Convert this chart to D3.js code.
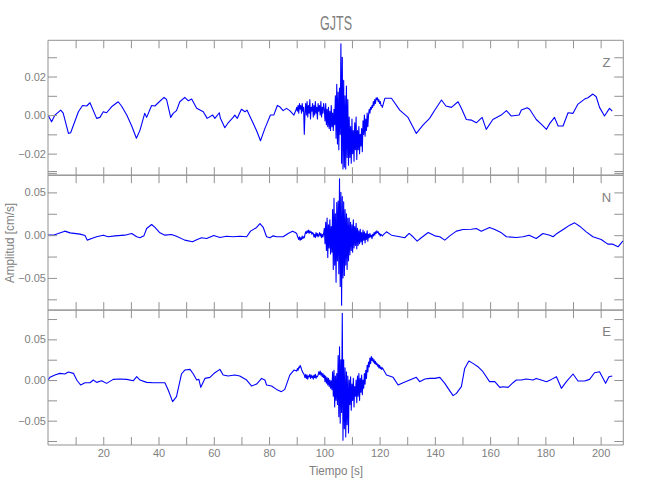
<!DOCTYPE html>
<html>
<head>
<meta charset="utf-8">
<script src="https://cdn.jsdelivr.net/npm/d3@7"></script>
<style>
    body { margin: 0; background: #fff; }
    svg text { font-family: "Liberation Sans", Arial, sans-serif; fill: #808080; }
    .axis path, .axis line { stroke: #929292; }
</style>
</head>
<body>
<svg id="chart" width="650" height="500"></svg>
<script>
// station + components
const station = "GJTS";
const components = ["Z", "N", "E"];

// x axis (s)
const timeDomain = [0, 208.2];
const timeTicks = [10, 20, 30, 40, 50, 60, 70, 80, 90, 100, 110, 120, 130, 140, 150, 160, 170, 180, 190, 200];
const timeLabels = [20, 40, 60, 80, 100, 120, 140, 160, 180, 200];

// y axes (cm/s)
const zDomain = [-0.0312, 0.0388];
const nDomain = [-0.0876, 0.0701];
const eDomain = [-0.0799, 0.0860];
const zTicks = [-0.03, -0.02, -0.01, 0, 0.01, 0.02, 0.03];
const zLabels = [-0.02, 0, 0.02];
const neTicks = [-0.075, -0.05, -0.025, 0, 0.025, 0.05, 0.075];
const neLabels = [-0.05, 0, 0.05];

// traces, amplitude in 1e-3 cm/s
// quiet parts as [t, v]; strong motion part sampled every 0.25 s from 90 s
const burstStart = 90;
const burstStep = 0.25;

const zBefore = [[0,0],[1.3,-3.5],[2.5,0],[4.6,2.6],[5.5,1],[7.4,-9.5],[8.2,-9.2],[11,1.7],[12.5,5],[14,4.7],[15.2,6.4],[17.6,-1.7],[18.8,-1.2],[20,1.7],[21.2,1.2],[23,4.3],[25.4,6.9],[26.6,4.7],[28.5,0],[30.3,-5.7],[32,-12],[33.3,-7.8],[35,0.9],[35.7,-1.2],[37.5,5],[38.7,4.7],[39.9,6.4],[42,9.2],[42.9,8.1],[44.4,-1.2],[45.3,0.9],[46.5,2.3],[47.7,6.9],[49.5,9.2],[50.8,7.4],[52,8.3],[53.8,3.5],[56.2,1.7],[57.6,-1.7],[59.6,0],[60.4,-1.7],[62,1.2],[62.4,-1.7],[64,-6.6],[65.2,-4],[67,-1.2],[67.6,0],[68.5,-1.7],[70,3],[71.3,1.7],[72,2.6],[73.7,-2.6],[75.5,-8.1],[76.9,-13.3],[78.5,-6.9],[79,-5.2],[80.5,0],[81.7,0],[83,5],[83.9,4.3],[85.1,2.3],[86.3,3.5],[87.5,2.3],[89,0],[89.75,2.6]];
const zBurst = [4,2,5,1,6,3,5,1,6,2,4,
    -10,
    1,6,0,7,-1,5,1,8,-2,4,2,6,-1,5,0,7,1,4,-2,6,2,5,0,7,-1,4,1,6,
    3,-3,6,-5,3,-6,4,-7,2,-8,5,-6,1,-8,3,-5,
    10,-12,16,-15,12,-18,14,-10,
    37,-25,30,-28,
    18,-27,10,-28,15,-22,8,-26,
    -1,-22,-6,-25,-2,-20,-8,-24,-4,-18,-1,-23,
    -8,-18,-6,-20,-10,-16,-7,-19,
    -3,-10,0,-11,-2,-8,1,-6,
    0,3,1,4,3,5,4,7,5,8,6,9,
    8,9,7,8,6,7,5,5,4];
const zAfter = [[121.9,8.7],[124.3,8.7],[127.3,2.6],[130.3,-1.2],[133.3,-9.5],[135.7,-5.2],[138.1,-1.7],[140,2.6],[142.4,7.8],[144,4.7],[146,4],[148.4,6.9],[149.6,3.5],[151.4,-2.3],[153.2,-2.6],[155,-4],[157.1,-1.2],[158.6,-7.4],[161,-2.3],[164,0],[165.9,2.3],[167.7,-0.5],[170.5,0],[171.3,2.6],[173.4,3.8],[174.3,3],[176.7,-2.3],[178.5,-4.7],[180.4,-7.4],[181.6,-4.3],[183.3,-1.2],[184.6,-5.7],[186.4,-5.7],[188.2,1.2],[190,0.9],[191.8,5.7],[194.2,8.3],[195.4,9],[197.2,10.9],[198.4,9.5],[199.6,4],[201.4,-0.5],[203.2,3.5],[204.2,2.1]];

const nBefore = [[0,0],[1.9,0],[3.7,2],[6.1,4.7],[8,2.7],[11.6,1.2],[13.4,-0.4],[14.2,-5.8],[15.8,-3.9],[17.6,-1.9],[20,0],[21.8,-1.9],[24.2,-0.8],[27.8,0],[30.3,2],[32.1,-1.9],[33.3,-3],[34.7,-0.8],[35.7,7.8],[37.5,12.5],[38.7,9],[40.5,2.7],[42.3,0],[44.7,0.8],[46.5,-1.2],[49.5,-5.8],[52.3,-7.8],[54,-5],[55.6,-3],[57.4,-3.9],[60,-0.4],[62.2,-2.7],[64.6,-1.2],[67,-1.9],[69.4,-1.2],[71.9,-1.9],[73.3,4.7],[75.5,9],[76.7,13.6],[77.9,9],[79.1,-1.9],[80.3,-3],[81.5,-0.8],[82.7,-1.9],[85.1,-1.9],[86.9,2],[88.5,4.7],[89.5,3.1]];
const nBurst = [2,-1,-3,-5,-2,-6,-3,-5,-1,-4,-2,-3,
    1,4,2,5,3,6,2,5,3,4,1,3,
    2,-2,1,-3,3,-1,2,-2,0,3,-1,2,-3,1,-2,2,
    8,-10,15,-18,20,-26,12,-15,18,-22,10,-20,
    30,-40,43,-35,25,-55,38,-30,40,-45,
    66,-60,50,-82,45,-50,
    39,-47,30,-35,25,-40,20,-30,
    20,-23,15,-18,12,-20,18,-15,10,-12,14,-16,
    8,-12,5,-10,7,-8,3,-11,6,-6,4,-9,2,-5,5,-7,
    1,-3,2,-2,0,-4,1,-1,3,0,4,2,5,3,4,1,2,-1,1,0,-1];
const nAfter = [[121.5,1],[122.5,3.9],[124.3,0],[127.3,-1.9],[129.1,-3],[130.7,2],[132.1,-1.9],[133.6,-7],[135.1,-3],[137.6,3.1],[140,-0.8],[141.8,-1.9],[143.6,-5.8],[145.4,-0.8],[147.8,4.7],[150.2,6.6],[153.2,7],[155,7.8],[156.8,4.7],[159.8,9],[161.7,6.6],[164.1,2.7],[165.9,-1.9],[169.5,-2.7],[171.9,-1.9],[174.1,0],[176.7,-3.9],[179.1,2],[181.6,0],[182.8,-1.9],[184.2,2],[187,7.8],[188.8,11.7],[190.6,14.4],[192.4,10.5],[194.8,3.9],[197.2,-1.9],[200.2,-5],[202.6,-10.5],[204.4,-10.5],[206.3,-13.6],[208.1,-6.6]];

const eBefore = [[0,0],[0.7,3.3],[2.5,6.1],[4.3,8.2],[6.1,7.4],[7.4,9.8],[9.2,8.2],[10.4,0],[11.8,-6.1],[13.4,-3.3],[15.2,-3.3],[16.4,0],[17.6,-2.9],[19.4,-0.8],[21.2,-4.1],[23.6,0.8],[26,1.2],[28.5,0.8],[30.9,-0.8],[32.1,4.1],[33.3,0],[35.7,-2.9],[38.1,-3.3],[39.9,-3.3],[42.3,-3.3],[43.5,-12.3],[45.1,-26.6],[46.5,-20.5],[48.3,7.4],[49.5,12.3],[51.4,13.1],[52.6,7.4],[53.8,0],[54.6,0.8],[55.3,-9],[56.8,2],[58.6,3.3],[60.4,9],[62.2,13.1],[63.4,6.1],[65.2,4.9],[67.6,6.1],[69.4,4.9],[71.9,0],[73.7,-7.4],[75.5,-4.9],[77.3,2],[78.5,0],[79.1,-6.1],[80.9,-7.4],[82.7,-11.5],[84.5,-14.3],[85.7,-11.5],[87.5,6.1],[89,12.3]];
const eBurst = [11,14,12,16,15,18,
    16,13,11,9,8,6,
    3,7,2,6,1,5,4,7,2,6,3,5,1,6,3,7,2,5,4,6,
    10,7,11,6,9,4,8,3,
    6,-2,5,-4,3,-6,2,-8,0,-10,-1,-12,
    10,-20,12,-33,5,-25,8,-30,
    30,-45,41,-53,25,-40,
    82,-74,
    25,-60,15,-70,10,-55,5,-65,
    0,-30,4,-37,-5,-25,2,-33,-8,-20,0,-28,
    5,-20,8,-25,2,-15,6,-18,
    0,-10,8,-5,12,2,18,10,22,16,27,20,
    29,24,27,22,25,20,23,19,
    21,17,19,15,18,14,16,13,15];
const eAfter = [[122.5,6.1],[124.9,3.3],[126.7,-6.1],[128.5,-3.3],[130.9,0],[133.3,3.3],[134.5,-2],[136.4,1.2],[138.2,2],[140,2],[141.8,3.3],[143.6,-4.1],[144.8,-10.2],[146.6,-19.2],[147.8,-16.4],[149.6,-8.2],[150.8,14.3],[152.3,23.3],[153.8,20.5],[155.6,16.4],[157.4,10.2],[159.8,-2],[161.7,-2],[163.5,-9],[164.7,-8.2],[166.5,-9],[168.3,-3.3],[169.5,0],[171.3,0],[173.1,1.2],[175.5,0],[176.7,2],[178.5,0],[180.4,-2],[182.2,0.8],[184,4.1],[185.8,-10.2],[187.6,-2],[190,7.4],[191.8,-1.2],[194.2,-1.2],[196,0.8],[197.8,9],[199.6,10.2],[201.8,-4.1],[203,4.1],[204.2,4.9]];

function buildTrace(before, burst, after) {
    let pts = before.map(function (d) { return { t: d[0], v: d[1] / 1000 }; });
    burst.forEach(function (v, i) {
        pts.push({ t: burstStart + i * burstStep, v: v / 1000 });
    });
    after.forEach(function (d) { pts.push({ t: d[0], v: d[1] / 1000 }); });
    return pts;
}

const panels = [
    { name: "Z", data: buildTrace(zBefore, zBurst, zAfter), domain: zDomain, ticks: zTicks, labels: zLabels },
    { name: "N", data: buildTrace(nBefore, nBurst, nAfter), domain: nDomain, ticks: neTicks, labels: neLabels },
    { name: "E", data: buildTrace(eBefore, eBurst, eAfter), domain: eDomain, ticks: neTicks, labels: neLabels }
];

let svg = d3.select("#chart");
let plotLeft = 48, plotRight = 623.3, plotTop = 40.3, panelH = 134.9;
let fmt = d3.format(".2f");

let xScale = d3.scaleLinear().domain(timeDomain).range([plotLeft, plotRight]);

svg.append("text")
    .attr("x", 336)
    .attr("y", 30)
    .attr("text-anchor", "middle")
    .attr("font-size", 20)
    .attr("textLength", 32)
    .attr("lengthAdjust", "spacingAndGlyphs")
    .text(station);

panels.forEach(function (p, i) {
    let y0 = plotTop + i * panelH;
    let yScale = d3.scaleLinear().domain(p.domain).range([y0 + panelH, y0]);

    svg.append("clipPath").attr("id", "clip" + i)
        .append("rect")
        .attr("x", plotLeft).attr("y", y0)
        .attr("width", plotRight - plotLeft).attr("height", panelH);

    let line = d3.line()
        .x(function (d) { return xScale(d.t); })
        .y(function (d) { return yScale(d.v); });

    svg.append("path")
        .datum(p.data)
        .attr("clip-path", "url(#clip" + i + ")")
        .attr("fill", "none")
        .attr("stroke", "#0000ff")
        .attr("stroke-width", 1.1)
        .attr("stroke-linejoin", "round")
        .attr("d", line);

    // left axis, inward ticks
    svg.append("g").attr("class", "axis")
        .attr("transform", "translate(" + plotLeft + ",0)")
        .call(d3.axisLeft(yScale).tickValues(p.ticks).tickSize(-9).tickPadding(2)
            .tickFormat(function (d) {
                return p.labels.some(function (l) { return Math.abs(l - d) < 1e-9; }) ? fmt(d) : "";
            }))
        .call(function (g) { g.select(".domain").attr("d", "M0," + y0 + "V" + (y0 + panelH)); })
        .selectAll("text").attr("font-size", 11).attr("fill", "#808080");

    svg.append("g").attr("class", "axis")
        .attr("transform", "translate(" + plotRight + ",0)")
        .call(d3.axisRight(yScale).tickValues(p.ticks).tickSize(-9).tickFormat(""))
        .call(function (g) { g.select(".domain").attr("d", "M0," + y0 + "V" + (y0 + panelH)); });

    svg.append("g").attr("class", "axis")
        .attr("transform", "translate(0," + y0 + ")")
        .call(d3.axisTop(xScale).tickValues(timeTicks).tickSize(-8).tickFormat(""))
        .call(function (g) { g.select(".domain").attr("d", "M" + plotLeft + ",0H" + plotRight); });

    let bottom = svg.append("g").attr("class", "axis")
        .attr("transform", "translate(0," + (y0 + panelH) + ")")
        .call(d3.axisBottom(xScale).tickValues(timeTicks).tickSize(-8).tickPadding(4)
            .tickFormat(function (d) {
                return (i == panels.length - 1 && timeLabels.indexOf(d) >= 0) ? d : "";
            }))
        .call(function (g) { g.select(".domain").attr("d", "M" + plotLeft + ",0H" + plotRight); });
    bottom.selectAll("text").attr("font-size", 11).attr("fill", "#808080");

    svg.append("text")
        .attr("x", 606.5)
        .attr("y", y0 + 26.3)
        .attr("text-anchor", "middle")
        .attr("font-size", 13)
        .attr("fill", "#8a8a8a")
        .text(p.name);
});

svg.selectAll(".axis").attr("font-family", null);

svg.append("text")
    .attr("x", 336)
    .attr("y", 475)
    .attr("text-anchor", "middle")
    .attr("font-size", 13)
    .attr("textLength", 54)
    .attr("lengthAdjust", "spacingAndGlyphs")
    .text("Tiempo [s]");

svg.append("text")
    .attr("transform", "translate(14,243) rotate(-90)")
    .attr("text-anchor", "middle")
    .attr("font-size", 12)
    .attr("textLength", 80)
    .attr("lengthAdjust", "spacingAndGlyphs")
    .text("Amplitud [cm/s]");
</script>
</body>
</html>
